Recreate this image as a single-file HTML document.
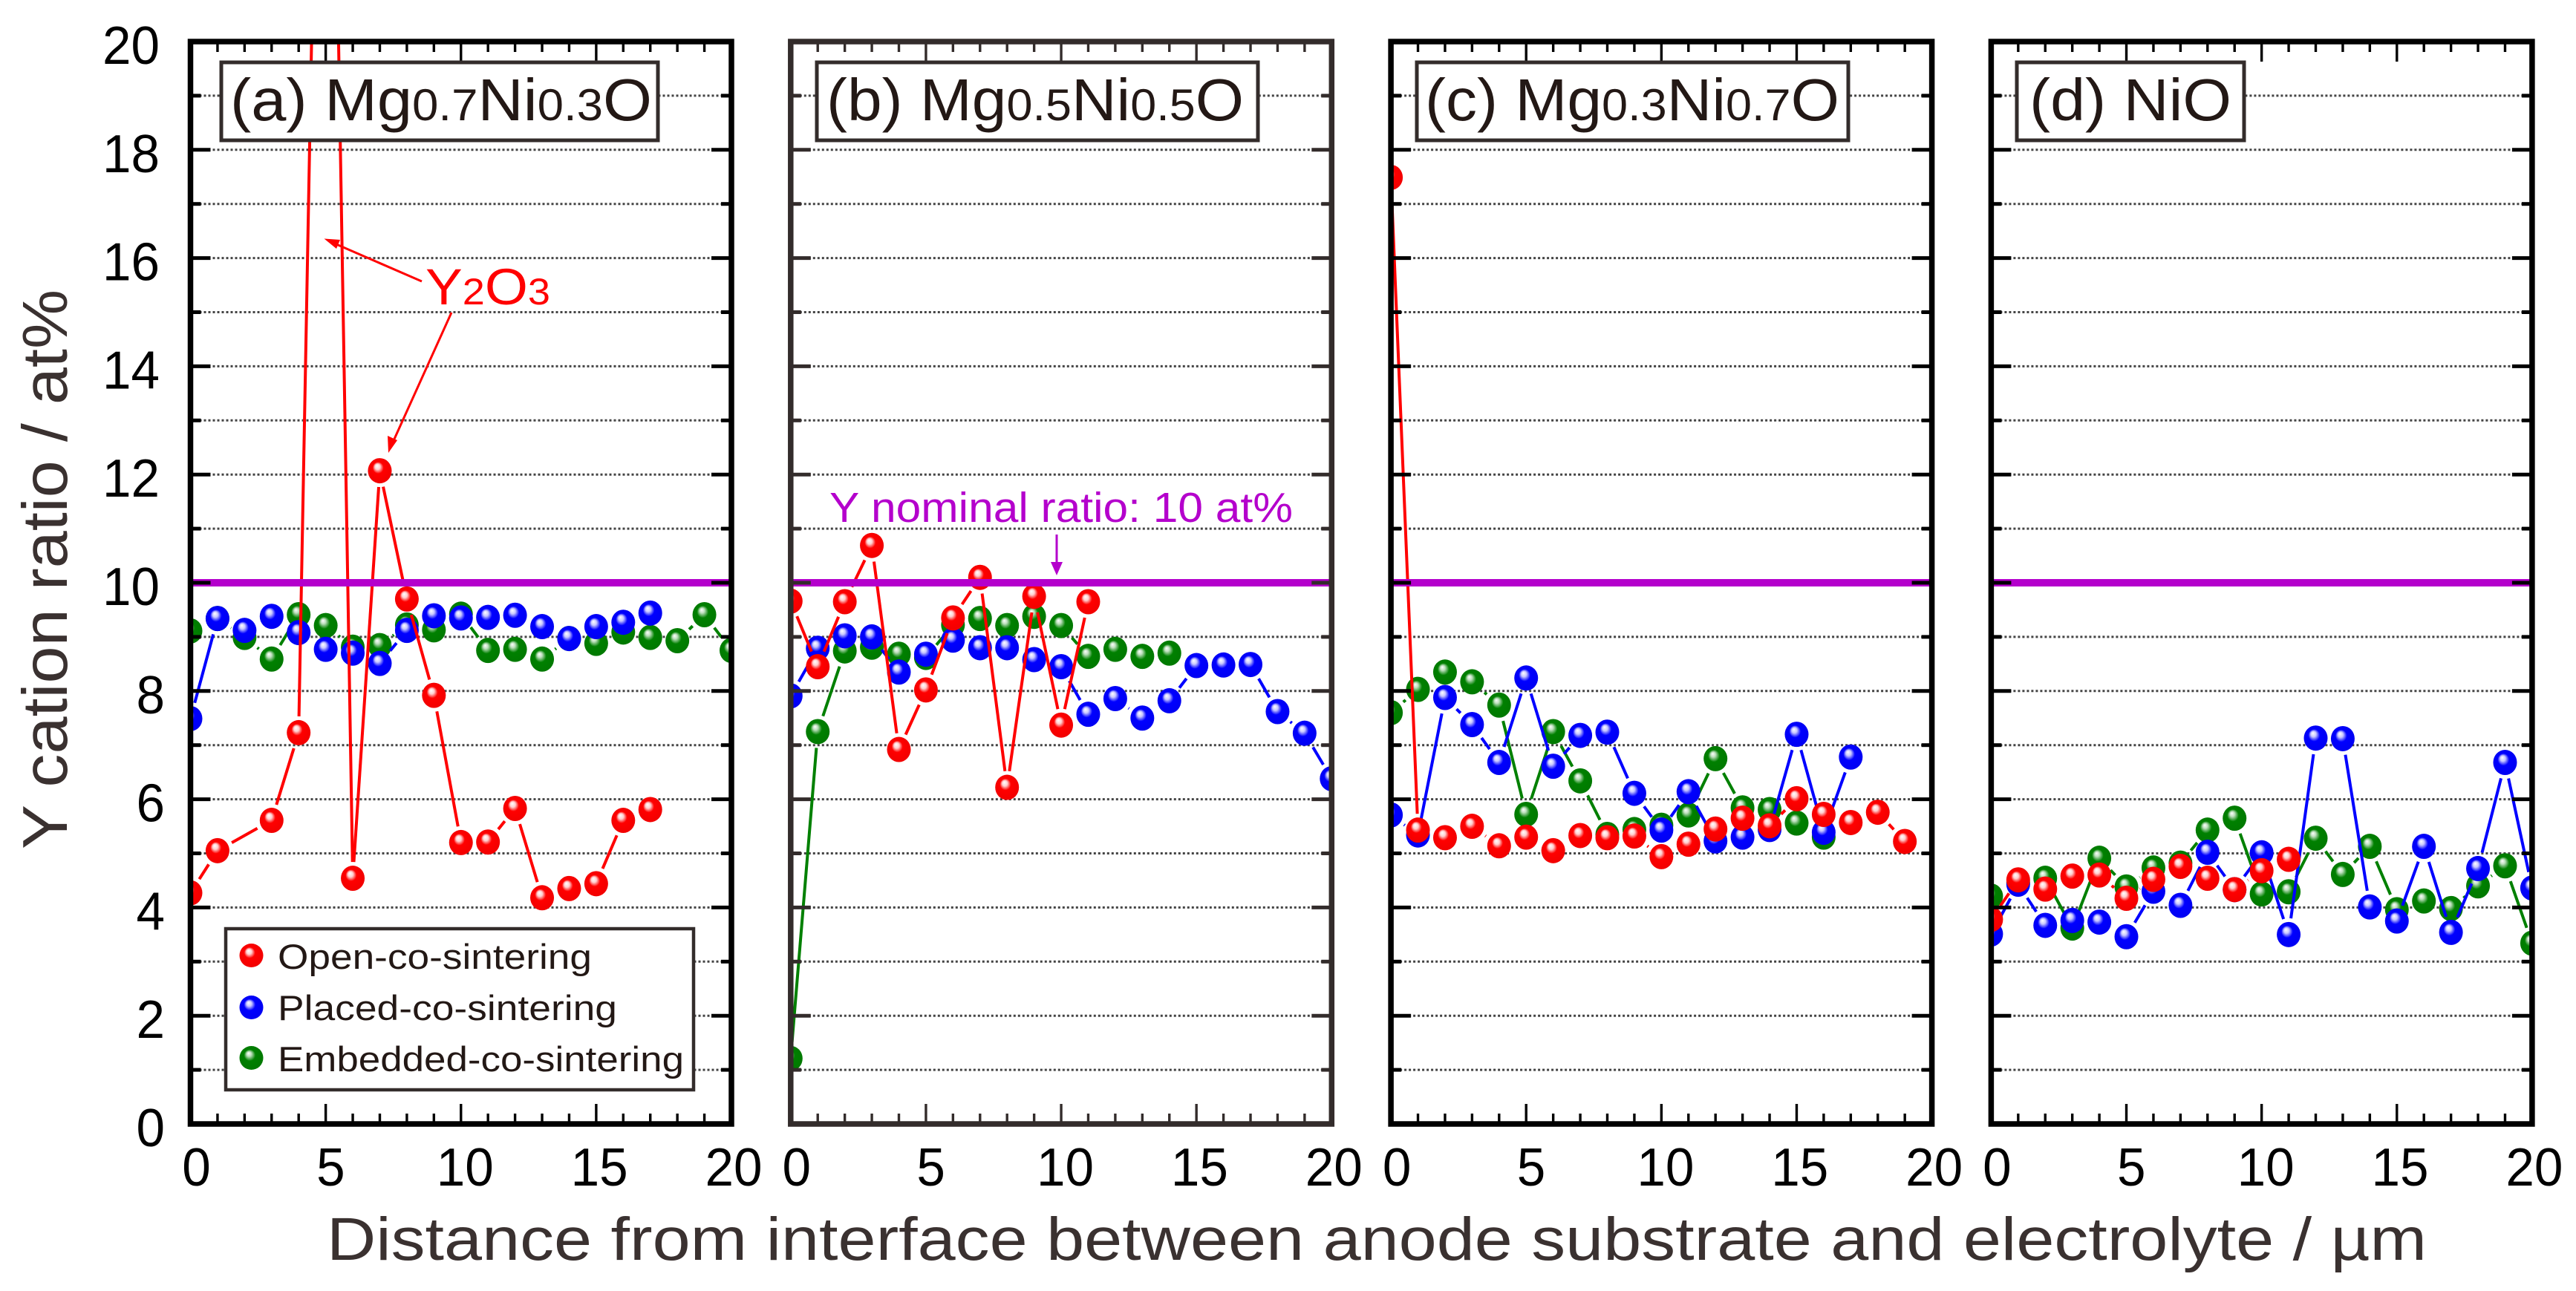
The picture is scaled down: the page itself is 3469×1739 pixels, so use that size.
<!DOCTYPE html>
<html lang="en">
<head>
<meta charset="utf-8">
<title>Y cation ratio vs. distance from interface</title>
<style>
html,body{margin:0;padding:0;background:#fff;}
svg{display:block;font-family:"Liberation Sans",Arial,sans-serif;}
</style>
</head>
<body>
<svg id="chart" xmlns="http://www.w3.org/2000/svg" width="3469" height="1739" viewBox="0 0 3469 1739">
  <defs>
    <radialGradient id="sphere-red" cx="0.5" cy="0.5" r="0.55" fx="0.38" fy="0.3">
      <stop offset="0" stop-color="#ffffff"/><stop offset="0.2" stop-color="#ffd0d0"/><stop offset="0.42" stop-color="#ff0000"/><stop offset="1" stop-color="#f00000"/>
    </radialGradient>
    <radialGradient id="sphere-blue" cx="0.5" cy="0.5" r="0.55" fx="0.38" fy="0.3">
      <stop offset="0" stop-color="#ffffff"/><stop offset="0.2" stop-color="#c8c8ff"/><stop offset="0.44" stop-color="#0000ff"/><stop offset="1" stop-color="#0000f0"/>
    </radialGradient>
    <radialGradient id="sphere-green" cx="0.5" cy="0.5" r="0.55" fx="0.38" fy="0.3">
      <stop offset="0" stop-color="#ffffff"/><stop offset="0.18" stop-color="#bfe0bf"/><stop offset="0.44" stop-color="#008000"/><stop offset="1" stop-color="#007800"/>
    </radialGradient>
  </defs>

  <g id="plots"></g>
  <g id="tick-labels"></g>

  <g>
    <rect x="298" y="84" width="588" height="105" fill="#fff" stroke="#332c2b" stroke-width="5"/>
    <text x="310" y="162" font-size="80" fill="#231815" textLength="568" lengthAdjust="spacingAndGlyphs">(a) Mg<tspan font-size="60">0.7</tspan>Ni<tspan font-size="60">0.3</tspan>O</text>
  </g>
  <g>
    <rect x="1100" y="84" width="594" height="105" fill="#fff" stroke="#332c2b" stroke-width="5"/>
    <text x="1113" y="162" font-size="80" fill="#231815" textLength="562" lengthAdjust="spacingAndGlyphs">(b) Mg<tspan font-size="60">0.5</tspan>Ni<tspan font-size="60">0.5</tspan>O</text>
  </g>
  <g>
    <rect x="1908" y="84" width="581" height="105" fill="#fff" stroke="#332c2b" stroke-width="5"/>
    <text x="1919" y="162" font-size="80" fill="#231815" textLength="558" lengthAdjust="spacingAndGlyphs">(c) Mg<tspan font-size="60">0.3</tspan>Ni<tspan font-size="60">0.7</tspan>O</text>
  </g>
  <g>
    <rect x="2716" y="84" width="306" height="105" fill="#fff" stroke="#332c2b" stroke-width="5"/>
    <text x="2733" y="162" font-size="80" fill="#231815" textLength="272" lengthAdjust="spacingAndGlyphs">(d) NiO</text>
  </g>

  <g>
    <rect x="304" y="1251" width="630" height="217" fill="#fff" stroke="#332c2b" stroke-width="4.5"/>
    <g>
      <circle cx="338.5" cy="1287" r="16" fill="url(#sphere-red)"/>
      <text x="374" y="1305" font-size="47" fill="#231815" textLength="423" lengthAdjust="spacingAndGlyphs">Open-co-sintering</text>
    </g>
    <g>
      <circle cx="338.5" cy="1357" r="16" fill="url(#sphere-blue)"/>
      <text x="374" y="1374" font-size="47" fill="#231815" textLength="457" lengthAdjust="spacingAndGlyphs">Placed-co-sintering</text>
    </g>
    <g>
      <circle cx="338.5" cy="1425" r="16" fill="url(#sphere-green)"/>
      <text x="374" y="1443" font-size="47" fill="#231815" textLength="547" lengthAdjust="spacingAndGlyphs">Embedded-co-sintering</text>
    </g>
  </g>

  <g>
    <text x="573" y="410" font-size="69" fill="#ff0000" textLength="168" lengthAdjust="spacingAndGlyphs">Y<tspan font-size="50">2</tspan>O<tspan font-size="50">3</tspan></text>
    <line x1="568" y1="379" x2="446" y2="326" stroke="#ff0000" stroke-width="3"/>
    <polygon points="436.5,321.5 458,323 453,335" fill="#ff0000"/>
    <line x1="608" y1="421" x2="528" y2="598" stroke="#ff0000" stroke-width="3"/>
    <polygon points="523,610 522,587 535,593" fill="#ff0000"/>
  </g>

  <g>
    <text x="1117" y="703" font-size="57" fill="#b400cc" textLength="624" lengthAdjust="spacingAndGlyphs">Y nominal ratio: 10 at%</text>
    <line x1="1423" y1="720" x2="1423" y2="760" stroke="#b400cc" stroke-width="3"/>
    <polygon points="1423,775 1415,757 1431,757" fill="#b400cc"/>
  </g>

  <text transform="translate(90 1144) rotate(-90)" font-size="85" fill="#3a3130" textLength="754" lengthAdjust="spacingAndGlyphs">Y cation ratio / at%</text>
  <text x="440" y="1697" font-size="82" fill="#3a3130" textLength="2828" lengthAdjust="spacingAndGlyphs">Distance from interface between anode substrate and electrolyte / µm</text>

<script>
const yTickLabels = [0, 2, 4, 6, 8, 10, 12, 14, 16, 18, 20];
const xTickLabels = [0, 5, 10, 15, 20];
const nominalRatio = 10;

const openA = [4.27, 5.05, null, 5.61, 7.23, 34, 4.54, 12.07, 9.70, 7.92, 5.20, 5.21, 5.83, 4.18, 4.35, 4.44, 5.61, 5.81];
const placedA = [7.49, 9.34, 9.12, 9.38, 9.08, 8.77, 8.70, 8.51, 9.12, 9.39, 9.35, 9.36, 9.40, 9.19, 8.97, 9.19, 9.27, 9.44];
const embeddedA = [9.11, 9.34, 8.99, 8.59, 9.41, 9.21, 8.81, 8.84, 9.22, 9.13, 9.42, 8.75, 8.77, 8.59, 8.97, 8.88, 9.09, 8.99, 8.93, 9.41, 8.75];

const openB = [9.66, 8.45, 9.65, 10.69, 6.92, 8.02, 9.35, 10.10, 6.22, 9.75, 7.37, 9.65];
const placedB = [7.91, 8.79, 9.02, 9.00, 8.35, 8.68, 8.94, 8.80, 8.80, 8.58, 8.45, 7.57, 7.86, 7.50, 7.82, 8.47, 8.48, 8.49, 7.62, 7.22, 6.38];
const embeddedB = [1.21, 7.25, 8.74, 8.81, 8.68, 8.62, 9.22, 9.34, 9.21, 9.38, 9.21, 8.64, 8.77, 8.64, 8.70];

const openC = [17.49, 5.43, 5.29, 5.50, 5.14, 5.30, 5.05, 5.33, 5.29, 5.32, 4.94, 5.17, 5.45, 5.65, 5.51, 6.01, 5.72, 5.57, 5.76, 5.22];
const placedC = [5.71, 5.34, 7.88, 7.38, 6.68, 8.24, 6.61, 7.18, 7.24, 6.11, 5.43, 6.14, 5.23, 5.30, 5.44, 7.20, 5.39, 6.78];
const embeddedC = [7.60, 8.03, 8.35, 8.17, 7.74, 5.72, 7.25, 6.34, 5.35, 5.44, 5.52, 5.71, 6.75, 5.84, 5.81, 5.56, 5.30];

const openD = [3.78, 4.51, 4.34, 4.58, 4.60, 4.17, 4.52, 4.76, 4.54, 4.33, 4.68, 4.89];
const placedD = [3.51, 4.43, 3.67, 3.76, 3.73, 3.46, 4.30, 4.04, 5.02, 4.33, 5.01, 3.50, 7.13, 7.12, 4.01, 3.75, 5.13, 3.54, 4.72, 6.68, 4.36];
const embeddedD = [4.21, 4.46, 4.54, 3.62, 4.91, 4.38, 4.73, 4.82, 5.43, 5.65, 4.25, 4.29, 5.28, 4.61, 5.13, 3.96, 4.12, 3.98, 4.40, 4.77, 3.34];

const panelNames = ['a', 'b', 'c', 'd'];
const panelOpen = [openA, openB, openC, openD];
const panelPlaced = [placedA, placedB, placedC, placedD];
const panelEmbedded = [embeddedA, embeddedB, embeddedC, embeddedD];

// Layout
const SVG_NS = 'http://www.w3.org/2000/svg';
const PLOT_TOP = 56, PLOT_BOTTOM = 1514, PLOT_WIDTH = 728.5;
const FIRST_LEFT = 256.5, PANEL_STEP = 808.3;
const X_MAX = 20, Y_MAX = 20;
const MARKER_RX = 16, MARKER_RY = 17, LINE_GAP = 22;

function panelLeft(p) { return FIRST_LEFT + p * PANEL_STEP; }
function xScale(p, v) { return panelLeft(p) + v / X_MAX * PLOT_WIDTH; }
function yScale(v) { return PLOT_BOTTOM - v / Y_MAX * (PLOT_BOTTOM - PLOT_TOP); }

function make(tag, attrs, parent) {
  const el = document.createElementNS(SVG_NS, tag);
  for (const k in attrs) el.setAttribute(k, attrs[k]);
  parent.appendChild(el);
  return el;
}

const plots = document.getElementById('plots');
const labelsGroup = document.getElementById('tick-labels');
const defs = document.querySelector('defs');

function drawSeries(p, values, color, gradient, name, parent) {
  const group = make('g', {}, parent);
  
  
  const pts = [];
  values.forEach(function (v, i) {
    if (v !== null) pts.push({ x: xScale(p, i), y: yScale(v), i: i });
  });
  for (let k = 0; k < pts.length - 1; k++) {
    const a = pts[k], b = pts[k + 1];
    const dx = b.x - a.x, dy = b.y - a.y, d = Math.hypot(dx, dy);
    if (d <= 2 * LINE_GAP) continue;
    const ux = dx / d, uy = dy / d;
    const seg = make('line', {
      x1: a.x + ux * LINE_GAP, y1: a.y + uy * LINE_GAP,
      x2: b.x - ux * LINE_GAP, y2: b.y - uy * LINE_GAP,
      stroke: color, 'stroke-width': 4
    }, group);
    
    
  }
  pts.forEach(function (pt) {
    const m = make('ellipse', { cx: pt.x, cy: pt.y, rx: MARKER_RX, ry: MARKER_RY, fill: 'url(#' + gradient + ')' }, group);
    
    
  });
}

panelNames.forEach(function (letter, p) {
  const left = panelLeft(p), right = left + PLOT_WIDTH;
  const axisColor = p === 1 ? '#332c2b' : '#000000';

  const panel = make('g', {}, plots);
  
  

  const clip = make('clipPath', { id: 'clip-' + letter }, defs);
  make('rect', { x: left, y: PLOT_TOP, width: PLOT_WIDTH, height: PLOT_BOTTOM - PLOT_TOP }, clip);

  // gridlines at every unit
  for (let v = 1; v < Y_MAX; v++) {
    const g = make('line', {
      x1: left, x2: right, y1: yScale(v), y2: yScale(v),
      stroke: '#444444', 'stroke-width': 3, 'stroke-dasharray': '3 3'
    }, panel);
    
    
  }

  // series
  const clipped = make('g', { 'clip-path': 'url(#clip-' + letter + ')' }, panel);
  
  
  drawSeries(p, panelEmbedded[p], '#008000', 'sphere-green', 'embedded', clipped);
  drawSeries(p, panelPlaced[p], '#0000ff', 'sphere-blue', 'placed', clipped);
  drawSeries(p, panelOpen[p], '#ff0000', 'sphere-red', 'open', clipped);

  // nominal ratio line
  const nom = make('line', {
    x1: left, x2: right, y1: yScale(nominalRatio), y2: yScale(nominalRatio),
    stroke: '#b400cc', 'stroke-width': 10
  }, panel);
  
  

  // y ticks, left and right
  for (let v = 1; v < Y_MAX; v++) {
    const len = v % 2 === 0 ? 27 : 14;
    const tl = make('line', { x1: left, x2: left + len, y1: yScale(v), y2: yScale(v), stroke: axisColor, 'stroke-width': 5 }, panel);
    
    
    const tr = make('line', { x1: right, x2: right - len, y1: yScale(v), y2: yScale(v), stroke: axisColor, 'stroke-width': 5 }, panel);
    
    
  }

  // x ticks, top and bottom
  for (let v = 1; v < X_MAX; v++) {
    const len = v % 5 === 0 ? 27 : 14;
    const tt = make('line', { x1: xScale(p, v), x2: xScale(p, v), y1: PLOT_TOP, y2: PLOT_TOP + len, stroke: axisColor, 'stroke-width': 3.4 }, panel);
    
    
    const tb = make('line', { x1: xScale(p, v), x2: xScale(p, v), y1: PLOT_BOTTOM, y2: PLOT_BOTTOM - len, stroke: axisColor, 'stroke-width': 3.4 }, panel);
    
    
  }

  // frame
  const frame = make('rect', {
    x: left, y: PLOT_TOP, width: PLOT_WIDTH, height: PLOT_BOTTOM - PLOT_TOP,
    fill: 'none', stroke: axisColor, 'stroke-width': 7.5
  }, panel);
  
  

  // x tick labels
  xTickLabels.forEach(function (v) {
    const t = make('text', {
      x: xScale(p, v) + 8 - 0.25 * v, y: 1597, 'font-size': 72,
      'text-anchor': 'middle', fill: '#000',
      textLength: String(v).length * 38.5, lengthAdjust: 'spacingAndGlyphs'
    }, labelsGroup);
    
    
    t.textContent = String(v);
  });
});

// y tick labels (first panel only)
yTickLabels.forEach(function (v) {
  const t = make('text', {
    x: v >= 10 ? 215 : 222, y: yScale(v) + 30, 'font-size': 72,
    'text-anchor': 'end', fill: '#000',
    textLength: String(v).length * 38.5, lengthAdjust: 'spacingAndGlyphs'
  }, labelsGroup);
  
  
  t.textContent = String(v);
});
</script>
</svg>
</body>
</html>
